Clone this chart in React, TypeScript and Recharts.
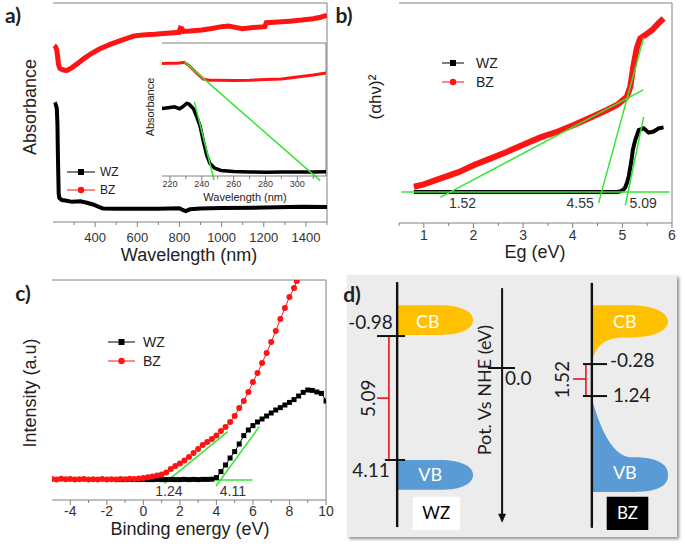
import React from 'react'
import {
  LineChart,
  ComposedChart,
  Line,
  XAxis,
  YAxis,
  ReferenceLine,
  ReferenceArea,
  ReferenceDot,
  Legend,
} from 'recharts'

const AXIS = '#808080'
const TICK_TXT = '#333'
const RED = '#ff1414'
const BLACK = '#000'
const GREEN = '#33e633'
const YELLOW = '#ffc000'
const BLUE = '#5b9bd5'
const FONT = '"Liberation Sans", Arial, sans-serif'
const DFONT = 'Lato, "Open Sans", sans-serif'

// ---- a) absorbance, main plot
const aBzNm = [205, 212, 218, 222, 226, 232, 242, 255, 266, 290, 314, 345, 378, 420, 474, 530, 586, 640, 682, 740, 786, 798, 804, 812, 818, 850, 906, 960, 1000, 1034, 1060, 1098, 1150, 1205, 1212, 1250, 1322, 1380, 1434, 1470, 1500]
const aBzAbs = [8.05, 8.0, 7.85, 7.55, 7.2, 7.02, 6.97, 6.93, 6.92, 7.05, 7.22, 7.45, 7.67, 7.9, 8.12, 8.32, 8.5, 8.55, 8.57, 8.62, 8.65, 8.66, 8.85, 8.82, 8.7, 8.72, 8.77, 8.85, 8.92, 8.95, 8.9, 8.83, 8.88, 8.92, 9.1, 9.12, 9.17, 9.22, 9.28, 9.35, 9.43]
const aWzNm = [205, 212, 218, 221, 223, 225, 227, 230, 242, 265, 290, 330, 360, 390, 420, 437, 500, 586, 700, 800, 815, 830, 850, 900, 1000, 1200, 1385, 1500]
const aWzAbs = [5.35, 5.38, 5.2, 4.5, 3.2, 2.2, 1.3, 1.1, 1.0, 0.97, 0.92, 0.95, 0.88, 0.8, 0.68, 0.62, 0.6, 0.6, 0.6, 0.63, 0.55, 0.5, 0.58, 0.62, 0.64, 0.66, 0.7, 0.68]
const aTicks = [300, 400, 500, 600, 700, 800, 900, 1000, 1100, 1200, 1300, 1400, 1500]
const aMajor = [400, 600, 800, 1000, 1200, 1400]

// ---- a) inset
const iBzNm = [215, 220, 225, 229, 232, 235, 238, 241, 245, 250, 260, 270, 280, 290, 300, 310, 318]
const iBzAbs = [8.45, 8.47, 8.47, 8.55, 8.3, 7.95, 7.6, 7.28, 7.2, 7.2, 7.18, 7.2, 7.25, 7.3, 7.45, 7.6, 7.75]
const iWzNm = [215, 220, 223, 226, 228, 230.5, 232, 234, 235, 237, 239, 241, 243, 245, 248, 252, 260, 270, 280, 290, 300, 310, 318]
const iWzAbs = [5.08, 5.15, 5.2, 5.05, 5.2, 5.45, 5.4, 5.15, 5.0, 4.4, 3.7, 2.6, 1.6, 0.95, 0.6, 0.42, 0.33, 0.3, 0.28, 0.3, 0.3, 0.31, 0.32]
const iTicks = [220, 230, 240, 250, 260, 270, 280, 290, 300, 310]
const iMajor = [220, 240, 260, 280, 300]
const iFits = [
  [[235.3, 5.59], [247.7, -0.3]],
  [[229, 8.6], [314.4, -0.35]],
]

// ---- b) tauc plot
const bBzEg = [0.8, 1.0, 1.34, 1.7, 2.01, 2.35, 2.68, 3.0, 3.35, 3.7, 4.02, 4.35, 4.69, 4.9, 5.09, 5.16, 5.22, 5.29, 5.36, 5.46, 5.6, 5.73, 5.83]
const bBzVal = [0.28, 0.4, 0.72, 1.05, 1.43, 1.78, 2.13, 2.5, 2.89, 3.2, 3.54, 3.93, 4.34, 4.62, 5.04, 5.57, 6.63, 7.6, 8.13, 8.3, 8.57, 8.93, 9.19]
const bWzEg = [0.8, 2, 3, 4, 4.9, 4.97, 5.02, 5.06, 5.1, 5.13, 5.16, 5.19, 5.21, 5.26, 5.33, 5.43, 5.53, 5.63, 5.73, 5.83]
const bWzVal = [0, 0, 0, 0, 0, 0.05, 0.12, 0.25, 0.55, 0.85, 1.3, 1.8, 2.22, 2.75, 3.28, 3.37, 3.14, 3.2, 3.37, 3.42]
const bTicks = [0.5, 1, 1.5, 2, 2.5, 3, 3.5, 4, 4.5, 5, 5.5, 6]
const bMajor = [1, 2, 3, 4, 5, 6]
const bFits = [
  [[0.55, 0], [5.95, 0]],
  [[1.33, -0.28], [5.42, 5.4]],
  [[4.52, -0.59], [5.43, 8.18]],
  [[5.06, -0.69], [5.43, 3.98]],
]
const bGapLabels = [
  { text: '1.52', x: 1.78, y: -0.6 },
  { text: '4.55', x: 4.15, y: -0.6 },
  { text: '5.09', x: 5.42, y: -0.6 },
]

// ---- c) valence band XPS
const cBzBe = [-5, -4.75, -4.5, -4.25, -4, -3.75, -3.5, -3.25, -3, -2.75, -2.5, -2.25, -2, -1.75, -1.5, -1.25, -1, -0.75, -0.5, -0.25, 0, 0.25, 0.5, 0.75, 1, 1.25, 1.5, 1.75, 2, 2.25, 2.5, 2.75, 3, 3.25, 3.5, 3.75, 4, 4.25, 4.5, 4.75, 5, 5.25, 5.5, 5.75, 6, 6.25, 6.5, 6.75, 7, 7.25, 7.5, 7.75, 8, 8.25, 8.4]
const cBzInt = [0.05, 0.03, 0.06, 0.04, 0.05, 0.02, 0.04, 0.05, 0.03, 0.04, 0.02, 0.05, 0.03, 0.04, 0.03, 0.05, 0.04, 0.06, 0.05, 0.08, 0.1, 0.14, 0.18, 0.22, 0.27, 0.38, 0.55, 0.7, 0.83, 0.98, 1.15, 1.35, 1.55, 1.75, 1.9, 2.05, 2.22, 2.45, 2.65, 2.9, 3.2, 3.6, 3.95, 4.4, 4.9, 5.35, 5.85, 6.35, 6.9, 7.45, 8.05, 8.6, 9.15, 9.6, 9.95]
const cWzBe = [-1.25, -1, -0.75, -0.5, -0.25, 0, 0.25, 0.5, 0.75, 1, 1.25, 1.5, 1.75, 2, 2.25, 2.5, 2.75, 3, 3.25, 3.5, 3.75, 4, 4.25, 4.5, 4.75, 5, 5.25, 5.5, 5.75, 6, 6.25, 6.5, 6.75, 7, 7.25, 7.5, 7.75, 8, 8.25, 8.5, 8.75, 9, 9.25, 9.5, 9.75, 10]
const cWzInt = [0.02, 0.02, 0.03, 0.02, 0.02, 0.03, 0.02, 0.02, 0.03, 0.02, 0.02, 0.03, 0.02, 0.02, 0.03, 0.02, 0.03, 0.02, 0.03, 0.03, 0.04, 0.12, 0.42, 0.75, 1.1, 1.42, 1.8, 2.22, 2.5, 2.72, 2.9, 3.05, 3.2, 3.35, 3.5, 3.62, 3.75, 3.88, 4.02, 4.2, 4.38, 4.5, 4.48, 4.4, 4.33, 3.95]
const cTicks = [-4, -3, -2, -1, 0, 1, 2, 3, 4, 5, 6, 7, 8, 9, 10]
const cMajor = [-4, -2, 0, 2, 4, 6, 8, 10]
const cFits = [
  [[-1.23, 0], [5.98, 0]],
  [[1.15, -0.17], [4.62, 2.42]],
  [[3.98, -0.3], [6.35, 2.67]],
]
const cEdgeLabels = [
  { text: '1.24', x: 1.4, y: -0.55 },
  { text: '4.11', x: 4.9, y: -0.55 },
]

// ---- d) band diagram (schematic units, 0..100 both ways, y downwards)
const dAxisLines = [
  { x: 15.2, top: 2.7, bottom: 96.2 },
  { x: 74.2, top: 3, bottom: 96.5 },
]
const dScale = { x: 47, top: 5, bottom: 93.5, tip: 94.6, title: 'Pot. Vs NHE (eV)', tx: 41.8, ty: 43.9 }
const dBands = [
  { text: 'CB', x1: 15.2, x2: 38.2, y1: 11.5, y2: 22.9, form: 'plain', tx: 24.5, ty: 17.9 },
  { text: 'VB', x1: 15.2, x2: 38.2, y1: 70.6, y2: 82, form: 'plain', tx: 25.2, ty: 76.3 },
  { text: 'CB', x1: 74.2, x2: 97.3, y1: 11.5, y2: 33.6, form: 'cbTail', tx: 84.2, ty: 17.9 },
  { text: 'VB', x1: 74.2, x2: 97.3, y1: 47, y2: 82.8, form: 'vbTail', tx: 84.2, ty: 75.6 },
]
const dLevels = [
  { text: '-0.98', x1: 9.1, x2: 17.6, y: 23.3, side: 'left', lx: 13.9, ly: 17.9 },
  { text: '4.11', x1: 11.5, x2: 17.6, y: 70.6, side: 'left', lx: 13.0, ly: 74.4 },
  { text: '0.0', x1: 42.7, x2: 50.9, y: 35.5, side: 'right', lx: 47.9, ly: 39.3 },
  { text: '-0.28', x1: 71.5, x2: 78.8, y: 34, side: 'right', lx: 79.7, ly: 32.4 },
  { text: '1.24', x1: 71.5, x2: 78.8, y: 46.2, side: 'right', lx: 80.6, ly: 45.8 },
]
const dGaps = [
  { text: '5.09', x: 12.7, y1: 23.3, y2: 70.6, stubX: 9.1, stubY: 47, lx: 6.4, ly: 47 },
  { text: '1.52', x: 72.4, y1: 34, y2: 46.2, stubX: 68.5, stubY: 39.7, lx: 65.2, ly: 40 },
]
const dTags = [
  { text: 'WZ', x1: 19.9, x2: 34.2, y1: 84.6, y2: 97.3, dark: false },
  { text: 'BZ', x1: 78.7, x2: 91.3, y1: 84.6, y2: 97.3, dark: true },
]

const legendOrder = ['WZ', 'BZ']

const zip = (xs: number[], ys: number[]) => xs.map((x, i) => ({ x, y: ys[i] }))

const makeXTick = (majors: number[], fontSize: number, gap: number) => (props: any) => {
  const { x, y, payload } = props
  const major = majors.includes(payload.value)
  return (
    <g>
      <line x1={x} x2={x} y1={y} y2={y + (major ? 5 : 3)} stroke={AXIS} />
      {major && (
        <text x={x} y={y + gap} dy="0.74em" textAnchor="middle" fontSize={fontSize} fill={TICK_TXT} fontFamily={FONT}>
          {payload.value}
        </text>
      )}
    </g>
  )
}

const makeYTick = (fontSize: number, gap: number) => (props: any) => {
  const { x, y, payload } = props
  return (
    <g>
      <line x1={x - 4} x2={x} y1={y} y2={y} stroke={AXIS} />
      <text x={x - gap} y={y} dy="0.36em" textAnchor="end" fontSize={fontSize} fill={TICK_TXT} fontFamily={FONT}>
        {payload.value}
      </text>
    </g>
  )
}

const squareDot = (size: number, color: string) => (p: any) => (
  <rect key={`sq-${p.index}`} x={p.cx - size / 2} y={p.cy - size / 2} width={size} height={size} fill={color} />
)

const legendContent = (fontSize: number, lineLen: number, rowH: number, gap: number) => (props: any) => {
  const items = [...(props.payload || [])].sort((a: any, b: any) => legendOrder.indexOf(a.value) - legendOrder.indexOf(b.value))
  return (
    <div style={{ fontFamily: FONT, fontSize, color: '#222' }}>
      {items.map((it: any) => (
        <div key={it.value} style={{ display: 'flex', alignItems: 'center', height: rowH }}>
          <svg width={lineLen} height={10}>
            <line x1={0} x2={lineLen} y1={5} y2={5} stroke={it.color} strokeWidth={1} />
            {it.type === 'square' ? (
              <rect x={lineLen / 2 - 3} y={2} width={6} height={6} fill={it.color} />
            ) : (
              <circle cx={lineLen / 2} cy={5} r={3.2} fill={it.color} />
            )}
          </svg>
          <span style={{ marginLeft: gap, lineHeight: 1 }}>{it.value}</span>
        </div>
      ))}
    </div>
  )
}

const Title = ({ x, y, size, rotate = 0, bold = false, family = FONT, children }: any) => (
  <div
    style={{
      position: 'absolute',
      left: x,
      top: y,
      transform: `translate(-50%, -50%) rotate(${rotate}deg)`,
      fontSize: size,
      fontFamily: family,
      fontWeight: bold ? 700 : 400,
      whiteSpace: 'nowrap',
      lineHeight: 1,
      color: '#222',
    }}
  >
    {children}
  </div>
)

const fitLines = (fits: number[][][], keyPrefix: string) =>
  fits.map((f, i) => (
    <ReferenceLine
      key={`${keyPrefix}-${i}`}
      segment={[{ x: f[0][0], y: f[0][1] }, { x: f[1][0], y: f[1][1] }]}
      stroke={GREEN}
      strokeWidth={1.5}
      ifOverflow="visible"
    />
  ))

function bandPath(form: string, x: number, y: number, w: number, h: number) {
  if (form === 'cbTail') {
    return `M${x},${y} H${x + w * 0.5} C${x + w * 0.88},${y} ${x + w},${y + h * 0.17} ${x + w},${y + h * 0.28} C${x + w},${y + h * 0.4} ${x + w * 0.88},${y + h * 0.56} ${x + w * 0.5},${y + h * 0.56} H${x + w * 0.4} C${x + w * 0.12},${y + h * 0.58} ${x + w * 0.04},${y + h * 0.75} ${x},${y + h} Z`
  }
  if (form === 'vbTail') {
    return `M${x},${y} C${x + w * 0.1},${y + h * 0.3} ${x + w * 0.25},${y + h * 0.6} ${x + w * 0.5},${y + h * 0.63} H${x + w * 0.55} C${x + w * 0.9},${y + h * 0.63} ${x + w},${y + h * 0.72} ${x + w},${y + h * 0.82} C${x + w},${y + h * 0.93} ${x + w * 0.88},${y + h} ${x + w * 0.55},${y + h} H${x} Z`
  }
  return `M${x},${y} H${x + w * 0.55} C${x + w * 0.88},${y} ${x + w},${y + h * 0.25} ${x + w},${y + h / 2} C${x + w},${y + h * 0.75} ${x + w * 0.88},${y + h} ${x + w * 0.55},${y + h} H${x} Z`
}

function PanelA() {
  return (
    <div style={{ position: 'absolute', left: 0, top: 0 }}>
      <LineChart width={340} height={270} margin={{ top: 3, right: 13, left: 53, bottom: 0 }}>
        <XAxis type="number" dataKey="x" domain={[200, 1500]} ticks={aTicks} interval={0} allowDataOverflow height={48}
          tickSize={0} tickMargin={0} tickLine={false} axisLine={{ stroke: AXIS }} tick={makeXTick(aMajor, 13, 10)} />
        <YAxis type="number" dataKey="y" domain={[0, 10]} width={0} tick={false} tickLine={false} axisLine={{ stroke: AXIS }} allowDataOverflow />
        <ReferenceLine y={10} stroke={AXIS} />
        <ReferenceLine x={1500} stroke={AXIS} />
        <Line name="WZ" legendType="square" data={zip(aWzNm, aWzAbs)} dataKey="y" stroke={BLACK} strokeWidth={4} dot={false} isAnimationActive={false} />
        <Line name="BZ" legendType="circle" data={zip(aBzNm, aBzAbs)} dataKey="y" stroke={RED} strokeWidth={5} dot={false} isAnimationActive={false} />
        <Legend layout="horizontal" verticalAlign="middle" content={legendContent(12, 28, 18, 5)}
          wrapperStyle={{ left: 67, top: 163, width: 'auto' }} />
      </LineChart>
    </div>
  )
}

function Inset() {
  return (
    <div style={{ position: 'absolute', left: 140, top: 40 }}>
      <div style={{ position: 'absolute', left: 22, top: 3, width: 164, height: 133, background: '#fff' }} />
      <LineChart width={200} height={165} margin={{ top: 3, right: 14, left: 22, bottom: 0 }}>
        <XAxis type="number" dataKey="x" domain={[215, 318]} ticks={iTicks} interval={0} allowDataOverflow height={29}
          tickSize={0} tickMargin={0} tickLine={false} axisLine={{ stroke: AXIS }} tick={makeXTick(iMajor, 9, 4)} />
        <YAxis type="number" dataKey="y" domain={[0, 10]} width={0} tick={false} tickLine={false} axisLine={{ stroke: AXIS }} allowDataOverflow />
        <ReferenceLine y={10} stroke={AXIS} />
        <ReferenceLine x={318} stroke={AXIS} />
        <Line data={zip(iWzNm, iWzAbs)} dataKey="y" stroke={BLACK} strokeWidth={3.5} dot={false} isAnimationActive={false} />
        <Line data={zip(iBzNm, iBzAbs)} dataKey="y" stroke={RED} strokeWidth={3} dot={false} isAnimationActive={false} />
        {fitLines(iFits, 'i')}
      </LineChart>
    </div>
  )
}

function PanelB() {
  return (
    <div style={{ position: 'absolute', left: 340, top: 0 }}>
      <LineChart width={345} height={270} margin={{ top: 3, right: 13, left: 59, bottom: 0 }}>
        <XAxis type="number" dataKey="x" domain={[0.5, 6]} ticks={bTicks} interval={0} allowDataOverflow height={47}
          tickSize={0} tickMargin={0} tickLine={false} axisLine={{ stroke: AXIS }} tick={makeXTick(bMajor, 14, 7)} />
        <YAxis type="number" dataKey="y" domain={[-1.64, 10]} ticks={[0]} interval={0} width={0} tickSize={0} tickMargin={0}
          tickLine={false} axisLine={{ stroke: AXIS }} tick={makeYTick(10, 8)} allowDataOverflow />
        <ReferenceLine y={10} stroke={AXIS} />
        <ReferenceLine x={6} stroke={AXIS} />
        <Line name="WZ" legendType="square" data={zip(bWzEg, bWzVal)} dataKey="y" stroke={BLACK} strokeWidth={4} dot={false} isAnimationActive={false} />
        <Line name="BZ" legendType="circle" data={zip(bBzEg, bBzVal)} dataKey="y" stroke={RED} strokeWidth={6} dot={false} isAnimationActive={false} />
        {fitLines(bFits, 'b')}
        {bGapLabels.map((l) => (
          <ReferenceDot key={l.text} x={l.x} y={l.y} r={0} fill="none" stroke="none"
            label={{ value: l.text, position: 'center', fontSize: 14, fill: '#333', fontFamily: FONT }} />
        ))}
        <Legend layout="horizontal" verticalAlign="middle" content={legendContent(14, 22, 19, 12)}
          wrapperStyle={{ left: 102, top: 53, width: 'auto' }} />
      </LineChart>
    </div>
  )
}

function PanelC() {
  return (
    <div style={{ position: 'absolute', left: 0, top: 270 }}>
      <LineChart width={340} height={278} margin={{ top: 10, right: 14, left: 52, bottom: 0 }}>
        <XAxis type="number" dataKey="x" domain={[-5, 10]} ticks={cTicks} interval={0} allowDataOverflow height={48}
          tickSize={0} tickMargin={0} tickLine={false} axisLine={{ stroke: AXIS }} tick={makeXTick(cMajor, 14, 6)} />
        <YAxis type="number" dataKey="y" domain={[-1, 10]} ticks={[0]} interval={0} width={0} tickSize={0} tickMargin={0}
          tickLine={false} axisLine={{ stroke: AXIS }} tick={makeYTick(10, 7)} allowDataOverflow />
        <ReferenceLine y={10} stroke={AXIS} />
        <ReferenceLine x={10} stroke={AXIS} />
        <Line name="WZ" legendType="square" data={zip(cWzBe, cWzInt)} dataKey="y" stroke={BLACK} strokeWidth={1}
          dot={squareDot(5, BLACK)} isAnimationActive={false} />
        <Line name="BZ" legendType="circle" data={zip(cBzBe, cBzInt)} dataKey="y" stroke={RED} strokeWidth={1}
          dot={{ r: 3, fill: RED, stroke: 'none' }} isAnimationActive={false} />
        {fitLines(cFits, 'c')}
        {cEdgeLabels.map((l) => (
          <ReferenceDot key={l.text} x={l.x} y={l.y} r={0} fill="none" stroke="none"
            label={{ value: l.text, position: 'center', fontSize: 14, fill: '#333', fontFamily: FONT }} />
        ))}
        <Legend layout="horizontal" verticalAlign="middle" content={legendContent(14, 27, 19, 8)}
          wrapperStyle={{ left: 108, top: 62, width: 'auto' }} />
      </LineChart>
    </div>
  )
}

function PanelD() {
  const numStyle = { fontSize: 19, fill: '#1e1e1e', fontFamily: DFONT }
  return (
    <div style={{ position: 'absolute', left: 347, top: 275, width: 330, height: 262, background: '#ececec', boxShadow: '2px 2px 3px rgba(0,0,0,0.45)' }}>
      <ComposedChart width={330} height={262} margin={{ top: 0, right: 0, left: 0, bottom: 0 }}>
        <XAxis type="number" dataKey="x" domain={[0, 100]} hide allowDataOverflow />
        <YAxis type="number" dataKey="y" domain={[0, 100]} reversed hide allowDataOverflow />
        {dBands.map((b, i) => (
          <ReferenceArea key={`band-${i}`} x1={b.x1} x2={b.x2} y1={b.y1} y2={b.y2}
            shape={(p: any) => <path d={bandPath(b.form, p.x, p.y, p.width, p.height)} fill={b.text === 'CB' ? YELLOW : BLUE} />} />
        ))}
        {dTags.map((t) => (
          <ReferenceArea key={t.text} x1={t.x1} x2={t.x2} y1={t.y1} y2={t.y2} fill={t.dark ? '#000' : '#fff'} fillOpacity={1}
            stroke="none" label={{ value: t.text, position: 'center', fontSize: 17, fill: t.dark ? '#fff' : '#000', fontFamily: DFONT }} />
        ))}
        {dGaps.map((g) => (
          <ReferenceLine key={`gv-${g.text}`} segment={[{ x: g.x, y: g.y1 }, { x: g.x, y: g.y2 }]} stroke="#e8141c" strokeWidth={1.6} />
        ))}
        {dGaps.map((g) => (
          <ReferenceLine key={`gs-${g.text}`} segment={[{ x: g.stubX, y: g.stubY }, { x: g.x, y: g.stubY }]} stroke="#e8141c" strokeWidth={1.6} />
        ))}
        {dAxisLines.map((a, i) => (
          <Line key={`ax-${i}`} data={[{ x: a.x, y: a.top }, { x: a.x, y: a.bottom }]} dataKey="y" stroke="#111" strokeWidth={2.4}
            dot={false} isAnimationActive={false} />
        ))}
        <Line data={[{ x: dScale.x, y: dScale.top }, { x: dScale.x, y: dScale.bottom }]} dataKey="y" stroke="#111" strokeWidth={2}
          dot={false} isAnimationActive={false} />
        <ReferenceDot x={dScale.x} y={dScale.tip} r={0}
          shape={(p: any) => <path d={`M${p.cx - 4},${p.cy - 9} L${p.cx + 4},${p.cy - 9} L${p.cx},${p.cy} Z`} fill="#111" />} />
        {dLevels.map((l) => (
          <ReferenceLine key={`lv-${l.text}`} segment={[{ x: l.x1, y: l.y }, { x: l.x2, y: l.y }]} stroke="#111" strokeWidth={2} />
        ))}
        {dLevels.map((l) => (
          <ReferenceDot key={`ll-${l.text}`} x={l.lx} y={l.ly} r={0} fill="none" stroke="none"
            label={{ value: l.text, position: l.side === 'left' ? 'left' : 'right', offset: 0, ...numStyle }} />
        ))}
        {dGaps.map((g) => (
          <ReferenceDot key={`gl-${g.text}`} x={g.lx} y={g.ly} r={0} fill="none" stroke="none"
            label={{ value: g.text, position: 'center', angle: -90, ...numStyle }} />
        ))}
        {dBands.map((b, i) => (
          <ReferenceDot key={`bl-${i}`} x={b.tx} y={b.ty} r={0} fill="none" stroke="none"
            label={{ value: b.text, position: 'center', fontSize: 18, fill: '#fff', fontFamily: DFONT }} />
        ))}
        <ReferenceDot x={dScale.tx} y={dScale.ty} r={0} fill="none" stroke="none"
          label={{ value: dScale.title, position: 'center', angle: -90, fontSize: 18, fill: '#1e1e1e', fontFamily: DFONT }} />
      </ComposedChart>
    </div>
  )
}

export default function App() {
  return (
    <div style={{ position: 'absolute', left: 0, top: 0, width: 685, height: 548, background: '#fff', fontFamily: FONT, overflow: 'hidden' }}>
      <PanelA />
      <Inset />
      <PanelB />
      <PanelC />
      <PanelD />
      <Title x={30} y={107} size={18} rotate={-90}>Absorbance</Title>
      <Title x={189} y={255} size={18}>Wavelength (nm)</Title>
      <Title x={150} y={107} size={11} rotate={-90}>Absorbance</Title>
      <Title x={245} y={197} size={11}>Wavelength (nm)</Title>
      <Title x={375} y={97} size={17} rotate={-90}>(αhν)²</Title>
      <Title x={535} y={252} size={18}>Eg (eV)</Title>
      <Title x={30} y={393} size={18} rotate={-90}>Intensity (a.u)</Title>
      <Title x={190} y={529} size={18}>Binding energy (eV)</Title>
      <Title x={13} y={14} size={21} bold family={DFONT}>a)</Title>
      <Title x={344} y={14} size={21} bold family={DFONT}>b)</Title>
      <Title x={23} y={292} size={21} bold family={DFONT}>c)</Title>
      <Title x={352} y={293} size={21} bold family={DFONT}>d)</Title>
    </div>
  )
}
